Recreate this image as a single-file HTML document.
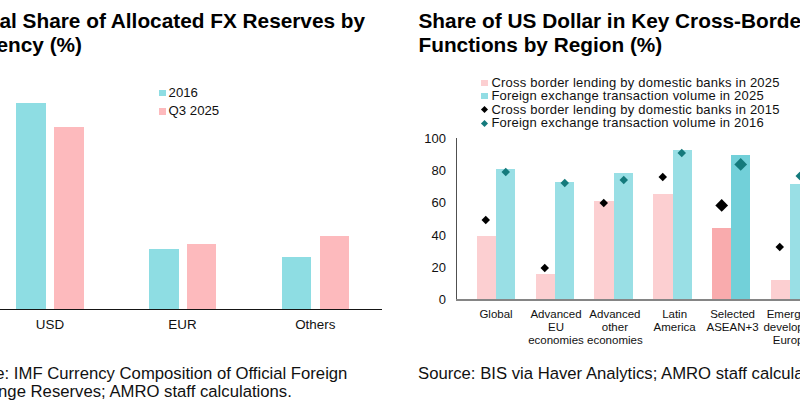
<!DOCTYPE html>
<html><head><meta charset="utf-8">
<style>
html,body{margin:0;padding:0;background:#fff;}
body{width:800px;height:401px;position:relative;overflow:hidden;font-family:"Liberation Sans",sans-serif;color:#000;}
.t{position:absolute;white-space:pre;line-height:1;}
.b{position:absolute;}
.title{font-size:20.8px;font-weight:bold;}
.tl{background:#8edde3;}
.pk{background:#fdbabd;}
.tl2{background:#92dde4;}
.pk2{background:#fccfd1;}
.lab{font-size:13.4px;color:#111;}
.cat{font-size:11.5px;color:#111;text-align:center;line-height:12.8px;}
.src{font-size:16.7px;color:#111;}
.ylab{font-size:13px;color:#111;text-align:right;width:40px;}
.leg{font-size:13px;letter-spacing:0.22px;color:#111;}
</style></head>
<body>
<!-- LEFT CHART -->
<div class="t title" id="lt1" style="left:-47.9px;top:11.2px;">Global Share of Allocated FX Reserves by</div>
<div class="t title" id="lt2" style="left:-47.4px;top:35.2px;">Currency (%)</div>

<div class="b tl" style="left:159px;top:89.5px;width:7px;height:6.5px;"></div>
<div class="t lab" style="left:168.6px;top:86.2px;font-size:13.2px;">2016</div>
<div class="b pk" style="left:159px;top:108px;width:7px;height:6.5px;"></div>
<div class="t lab" style="left:168.6px;top:104.2px;font-size:13.2px;">Q3 2025</div>

<div class="b tl" style="left:16.3px;top:102.6px;width:29.5px;height:206.4px;"></div>
<div class="b pk" style="left:54px;top:127.4px;width:29.5px;height:181.6px;"></div>
<div class="b tl" style="left:149px;top:248.9px;width:29.6px;height:60.1px;"></div>
<div class="b pk" style="left:186.9px;top:244px;width:29.1px;height:65px;"></div>
<div class="b tl" style="left:281.5px;top:256.5px;width:29.7px;height:52.5px;"></div>
<div class="b pk" style="left:319.5px;top:235.7px;width:29.5px;height:73.3px;"></div>
<div class="b" style="left:0;top:308.5px;width:381.5px;height:1.3px;background:#151515;"></div>

<div class="t lab" style="left:20px;top:318px;width:60px;text-align:center;">USD</div>
<div class="t lab" style="left:152.5px;top:318px;width:60px;text-align:center;">EUR</div>
<div class="t lab" style="left:285.25px;top:318px;width:60px;text-align:center;">Others</div>

<div class="t src" id="ls1" style="left:-48.3px;top:366px;">Source: IMF Currency Composition of Official Foreign</div>
<div class="t src" id="ls2" style="left:-48.3px;top:384.4px;">Exchange Reserves; AMRO staff calculations.</div>

<!-- RIGHT CHART -->
<div class="t title" style="left:418.5px;top:11px;">Share of US Dollar in Key Cross-Border</div>
<div class="t title" style="left:418.5px;top:35px;">Functions by Region (%)</div>

<div class="b pk2" style="left:481.4px;top:79.9px;width:6.7px;height:6.3px;"></div>
<div class="t leg" style="left:491.4px;top:75.9px;">Cross border lending by domestic banks in 2025</div>
<div class="b tl2" style="left:481.4px;top:93px;width:6.7px;height:6.4px;"></div>
<div class="t leg" style="left:491.4px;top:89.3px;">Foreign exchange transaction volume in 2025</div>
<div class="b" style="left:482.2px;top:107.2px;width:5px;height:5px;background:#000;transform:rotate(45deg);"></div>
<div class="t leg" style="left:491.4px;top:102.7px;">Cross border lending by domestic banks in 2015</div>
<div class="b" style="left:482.2px;top:120.7px;width:5px;height:5px;background:#147a7c;transform:rotate(45deg);"></div>
<div class="t leg" style="left:491.4px;top:116.1px;">Foreign exchange transaction volume in 2016</div>

<div class="t ylab" style="left:406px;top:131.8px;">100</div>
<div class="t ylab" style="left:406px;top:164.1px;">80</div>
<div class="t ylab" style="left:406px;top:196.4px;">60</div>
<div class="t ylab" style="left:406px;top:228.7px;">40</div>
<div class="t ylab" style="left:406px;top:261px;">20</div>
<div class="t ylab" style="left:406px;top:293.3px;">0</div>

<div id="bars"><div class="b" style="left:476.8px;top:235.5px;width:19.4px;height:64.0px;background:#fccfd1;"></div>
<div class="b" style="left:496.2px;top:168.9px;width:19.1px;height:130.6px;background:#99dfe5;"></div>
<div class="b" style="left:535.6px;top:273.6px;width:19.4px;height:25.9px;background:#fccfd1;"></div>
<div class="b" style="left:555.0px;top:182.3px;width:19.1px;height:117.2px;background:#99dfe5;"></div>
<div class="b" style="left:594.4px;top:201.0px;width:19.4px;height:98.5px;background:#fccfd1;"></div>
<div class="b" style="left:613.8px;top:173.1px;width:19.1px;height:126.4px;background:#99dfe5;"></div>
<div class="b" style="left:653.2px;top:193.5px;width:19.4px;height:106.0px;background:#fccfd1;"></div>
<div class="b" style="left:672.6px;top:150.0px;width:19.1px;height:149.5px;background:#99dfe5;"></div>
<div class="b" style="left:712.0px;top:228.2px;width:19.4px;height:71.3px;background:#f9abad;"></div>
<div class="b" style="left:731.4px;top:154.9px;width:19.1px;height:144.6px;background:#72d0d9;"></div>
<div class="b" style="left:770.8px;top:279.8px;width:19.4px;height:19.7px;background:#fccfd1;"></div>
<div class="b" style="left:790.2px;top:183.6px;width:19.1px;height:115.9px;background:#99dfe5;"></div>
<div class="b" style="left:483.2px;top:217.2px;width:5.5px;height:5.5px;background:#000;transform:rotate(45deg);"></div>
<div class="b" style="left:502.9px;top:168.6px;width:5.5px;height:5.5px;background:#147a7c;transform:rotate(45deg);"></div>
<div class="b" style="left:542.1px;top:265.4px;width:5.5px;height:5.5px;background:#000;transform:rotate(45deg);"></div>
<div class="b" style="left:561.8px;top:179.6px;width:5.5px;height:5.5px;background:#147a7c;transform:rotate(45deg);"></div>
<div class="b" style="left:600.9px;top:199.6px;width:5.5px;height:5.5px;background:#000;transform:rotate(45deg);"></div>
<div class="b" style="left:620.5px;top:177.1px;width:5.5px;height:5.5px;background:#147a7c;transform:rotate(45deg);"></div>
<div class="b" style="left:659.7px;top:173.8px;width:5.5px;height:5.5px;background:#000;transform:rotate(45deg);"></div>
<div class="b" style="left:679.4px;top:150.2px;width:5.5px;height:5.5px;background:#147a7c;transform:rotate(45deg);"></div>
<div class="b" style="left:716.5px;top:200.6px;width:9.4px;height:9.4px;background:#000;transform:rotate(45deg);"></div>
<div class="b" style="left:736.2px;top:160.3px;width:9.4px;height:9.4px;background:#147a7c;transform:rotate(45deg);"></div>
<div class="b" style="left:777.2px;top:244.2px;width:5.5px;height:5.5px;background:#000;transform:rotate(45deg);"></div>
<div class="b" style="left:796.9px;top:173.3px;width:5.5px;height:5.5px;background:#147a7c;transform:rotate(45deg);"></div></div><!--/bars-->

<div class="b" style="left:455.9px;top:138.3px;width:1.3px;height:162px;background:#505050;"></div>
<div class="b" style="left:455.9px;top:299.1px;width:345px;height:1.5px;background:#858585;"></div>

<div class="t cat" style="left:466px;top:308px;width:60px;">Global</div>
<div class="t cat" style="left:526px;top:308px;width:60px;">Advanced<br>EU<br>economies</div>
<div class="t cat" style="left:584.9px;top:308px;width:60px;">Advanced<br>other<br>economies</div>
<div class="t cat" style="left:644.6px;top:308px;width:60px;">Latin<br>America</div>
<div class="t cat" style="left:702.6px;top:308px;width:60px;">Selected<br>ASEAN+3</div>
<div class="t cat" style="left:761.3px;top:308px;width:60px;">Emerging<br>developing<br>Europe</div>

<div class="t src" style="left:418px;top:366px;">Source: BIS via Haver Analytics; AMRO staff calculations.</div>
</body></html>
